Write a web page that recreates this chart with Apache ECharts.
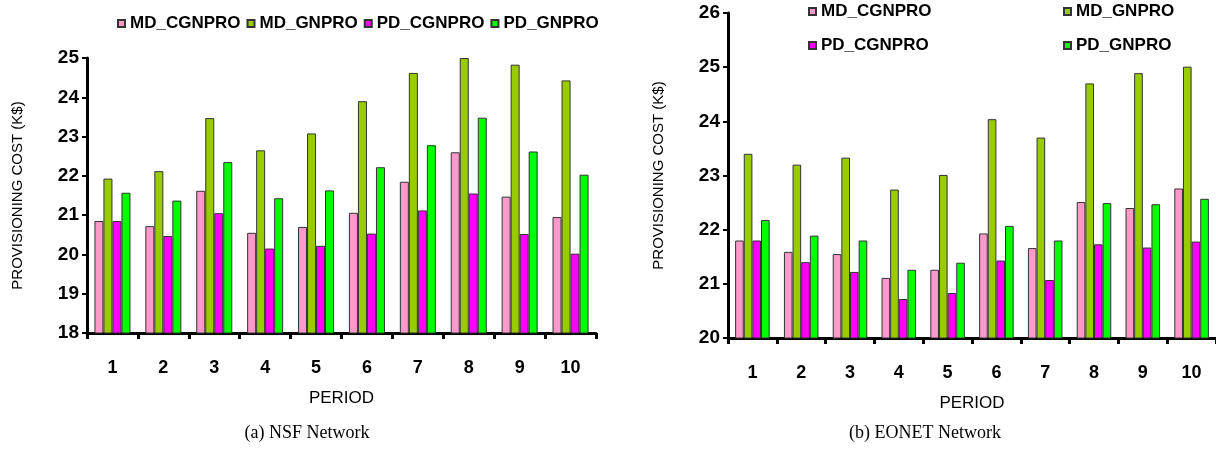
<!DOCTYPE html>
<html>
<head>
    <meta charset="utf-8">
    <title> ECharts </title>
    <script src="https://cdn.jsdelivr.net/npm/echarts@6/dist/echarts.min.js"></script>
    <style>
        html, body {margin: 0; padding: 0; background: #fff;}
        #main {width: 1216px; height: 461px;}
    </style>
</head>
<body>
<div id='main'></div>
<script type='text/javascript'>
// periods on the x axis
var periods = ['1', '2', '3', '4', '5', '6', '7', '8', '9', '10'];
var names = ['MD_CGNPRO', 'MD_GNPRO', 'PD_CGNPRO', 'PD_GNPRO'];
var colors = ['#ff99cc', '#99cc00', '#ff00ff', '#00ff00'];

// (a) NSF network
var nsf_md_cgnpro = [20.85, 20.72, 21.62, 20.55, 20.70, 21.06, 21.85, 22.60, 21.47, 20.95];
var nsf_md_gnpro  = [21.93, 22.12, 23.47, 22.65, 23.08, 23.90, 24.62, 25.00, 24.83, 24.43];
var nsf_pd_cgnpro = [20.85, 20.47, 21.05, 20.15, 20.22, 20.53, 21.12, 21.55, 20.52, 20.02];
var nsf_pd_gnpro  = [21.57, 21.37, 22.35, 21.43, 21.63, 22.22, 22.78, 23.48, 22.62, 22.03];

// (b) EONET network
var eon_md_cgnpro = [21.80, 21.59, 21.55, 21.11, 21.26, 21.93, 21.66, 22.51, 22.40, 22.76];
var eon_md_gnpro  = [23.40, 23.20, 23.33, 22.74, 23.01, 24.04, 23.70, 24.70, 24.89, 25.01];
var eon_pd_cgnpro = [21.80, 21.40, 21.22, 20.72, 20.83, 21.43, 21.07, 21.73, 21.67, 21.78];
var eon_pd_gnpro  = [22.18, 21.89, 21.80, 21.26, 21.39, 22.07, 21.80, 22.49, 22.47, 22.57];

var sans = '"Liberation Sans", Arial, sans-serif';

function xAxisOf(idx) {
    return {
        type: 'category', gridIndex: idx, data: periods,
        name: 'PERIOD', nameLocation: 'middle', nameGap: 57,
        nameTextStyle: {fontFamily: sans, fontSize: 17, color: '#000'},
        axisLine: {lineStyle: {color: '#000', width: 3}},
        axisTick: {show: true, length: 6, lineStyle: {color: '#000', width: 3}},
        axisLabel: {fontFamily: sans, fontWeight: 'bold', fontSize: 18, color: '#000', margin: 26},
        splitLine: {show: false}
    };
}
function yAxisOf(idx, min, max) {
    return {
        type: 'value', gridIndex: idx, min: min, max: max, interval: 1,
        name: 'PROVISIONING COST (K$)', nameLocation: 'middle', nameGap: 62,
        nameTextStyle: {fontFamily: sans, fontSize: 15, color: '#000'},
        axisLine: {show: true, lineStyle: {color: '#000', width: 3}},
        axisTick: {show: true, length: 5, lineStyle: {color: '#000', width: 2}},
        axisLabel: {fontFamily: sans, fontWeight: 'bold', fontSize: 19, color: '#000', margin: 8},
        splitLine: {show: false}
    };
}
function barOf(name, i, idx, vals) {
    return {
        type: 'bar', name: name, xAxisIndex: idx, yAxisIndex: idx, data: vals,
        barWidth: '17.7%', barGap: '0%',
        itemStyle: {color: colors[i], borderColor: '#333', borderWidth: 1}
    };
}

var series_data = [
    barOf(names[0], 0, 0, nsf_md_cgnpro),
    barOf(names[1], 1, 0, nsf_md_gnpro),
    barOf(names[2], 2, 0, nsf_pd_cgnpro),
    barOf(names[3], 3, 0, nsf_pd_gnpro),
    barOf(names[0], 0, 1, eon_md_cgnpro),
    barOf(names[1], 1, 1, eon_md_gnpro),
    barOf(names[2], 2, 1, eon_pd_cgnpro),
    barOf(names[3], 3, 1, eon_pd_gnpro),
];

var legendText = {fontFamily: sans, fontWeight: 'bold', fontSize: 17, color: '#000'};

var myChart = echarts.init(document.getElementById('main'));
var option = {
    animation: false,
    backgroundColor: '#fff',
    legend: [
        {left: 117, top: 15, padding: 0, itemGap: 6, itemWidth: 7, itemHeight: 7,
         icon: 'rect', data: names, textStyle: legendText},
        {left: 808, top: 3, padding: 0, orient: 'vertical', itemGap: 17, itemWidth: 7, itemHeight: 7,
         icon: 'rect', data: [names[0], names[2]], textStyle: legendText},
        {left: 1063, top: 3, padding: 0, orient: 'vertical', itemGap: 17, itemWidth: 7, itemHeight: 7,
         icon: 'rect', data: [names[1], names[3]], textStyle: legendText}
    ],
    grid: [
        {left: 87, right: 620, top: 58, bottom: 128},
        {left: 728, right: 0, top: 13, bottom: 123}
    ],
    xAxis: [xAxisOf(0), xAxisOf(1)],
    yAxis: [yAxisOf(0, 18, 25), yAxisOf(1, 20, 26)],
    graphic: [
        {type: 'text', x: 307, y: 433, style: {text: '(a) NSF Network', align: 'center', verticalAlign: 'middle',
            font: '18px "Liberation Serif", serif', fill: '#000'}},
        {type: 'text', x: 925, y: 433, style: {text: '(b) EONET Network', align: 'center', verticalAlign: 'middle',
            font: '18px "Liberation Serif", serif', fill: '#000'}}
    ],
    series: series_data
};
myChart.setOption(option);
</script>
</body>
</html>
